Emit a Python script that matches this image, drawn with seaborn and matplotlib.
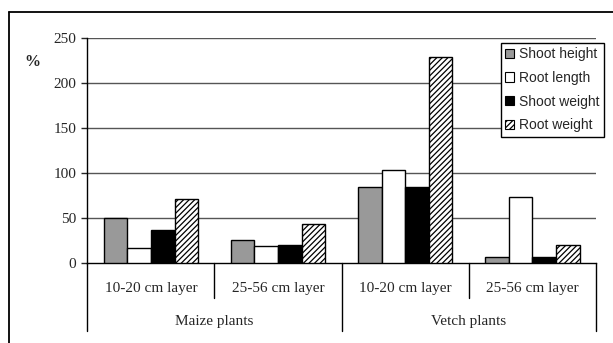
import matplotlib
matplotlib.use("Agg")
import matplotlib.pyplot as plt
import seaborn as sns
import pandas as pd
from matplotlib.lines import Line2D
from matplotlib.patches import Patch

# ---- data ----
layers = ["10-20 cm layer", "25-56 cm layer", "10-20 cm layer", "25-56 cm layer"]
plants = ["Maize plants", "Vetch plants"]
series = ["Shoot height", "Root length", "Shoot weight", "Root weight"]
shoot_height = [50, 26, 85, 7]
root_length = [17, 19, 103, 74]
shoot_weight = [37, 20, 85, 7]
root_weight = [71, 43, 229, 20]
yticks = [0, 50, 100, 150, 200, 250]

colors = ["#999999", "#ffffff", "#000000", "#ffffff"]
hatches = ["", "", "", "//////"]

cat_ids = ["M1", "M2", "V1", "V2"]
rows = []
for name, vals in zip(series, [shoot_height, root_length, shoot_weight, root_weight]):
    for c, v in zip(cat_ids, vals):
        rows.append({"cat": c, "series": name, "value": v})
df = pd.DataFrame(rows)

sns.set_style("white")
plt.rcParams["hatch.linewidth"] = 0.9
plt.rcParams["font.family"] = ["Liberation Serif", "DejaVu Serif"]

W, H = 613, 343
fig = plt.figure(figsize=(W / 100, H / 100), dpi=100)
ax_l, ax_r, ax_t, ax_b = 87.3, 596.0, 37.7, 263.3
ax = fig.add_axes([ax_l / W, 1 - ax_b / H, (ax_r - ax_l) / W, (ax_b - ax_t) / H])

sns.barplot(data=df, x="cat", y="value", hue="series", order=cat_ids,
            hue_order=series, palette=colors, width=0.743, gap=0,
            edgecolor="black", linewidth=1.0, saturation=1, legend=False, ax=ax,
            zorder=3)

for i, cont in enumerate(ax.containers):
    for p in cont.patches:
        p.set_hatch(hatches[i])
        p.set_edgecolor("black")
        p.set_zorder(3)

ax.set_ylim(0, 250)
ax.set_xlim(-0.5, 3.5)
ax.set_yticks(yticks)
ax.set_yticklabels([str(t) for t in yticks], fontsize=11)
ax.tick_params(axis="y", direction="out", length=4, width=1, pad=4, left=True)
ax.tick_params(axis="x", bottom=False, labelbottom=False)
ax.set_xlabel("")
ax.set_ylabel("")
for t in yticks[1:]:
    ax.axhline(t, color="#555555", lw=1.0, zorder=1)
for s in ["top", "right"]:
    ax.spines[s].set_visible(False)
ax.spines["left"].set_color("black")
ax.spines["bottom"].set_color("black")
ax.spines["left"].set_linewidth(1.0)
ax.spines["bottom"].set_linewidth(1.0)

# hierarchical category axis
def fy(px):
    return 1 - px / H

def fx(data_x):
    return (ax_l + (data_x + 0.5) / 4 * (ax_r - ax_l)) / W

for x in [-0.5, 1.5, 3.5]:
    fig.add_artist(Line2D([fx(x), fx(x)], [fy(ax_b), fy(330.7)], color="black", lw=1.0))
for x in [0.5, 2.5]:
    fig.add_artist(Line2D([fx(x), fx(x)], [fy(ax_b), fy(297.7)], color="black", lw=1.0))
for i, lab in enumerate(layers):
    fig.text(fx(i), fy(288.3), lab, ha="center", va="center", fontsize=11)
for j, lab in enumerate(plants):
    fig.text(fx(2 * j + 0.5), fy(321), lab, ha="center", va="center", fontsize=11)

fig.text(32 / W, fy(62), "%", ha="center", va="center", fontsize=11.5, fontweight="bold")

# legend
handles = [Patch(facecolor=colors[i], edgecolor="black", hatch=hatches[i] if hatches[i] else None,
                 label=series[i], linewidth=0.8) for i in range(4)]
leg = fig.legend(handles=handles, loc="upper left",
                 bbox_to_anchor=(500.7 / W, fy(42.7)),
                 prop={"family": ["Liberation Sans", "DejaVu Sans"], "size": 10},
                 frameon=True, fancybox=False, edgecolor="black", framealpha=1,
                 handlelength=0.65, handleheight=0.65, handletextpad=0.34,
                 labelspacing=0.7, borderpad=0.32, borderaxespad=0)
leg.get_frame().set_linewidth(1.0)

# outer frame (top and left only visible)
fig.add_artist(Line2D([9 / W, 1.0], [fy(12), fy(12)], color="black", lw=1.3))
fig.add_artist(Line2D([9 / W, 9 / W], [fy(12), 0], color="black", lw=1.3))

fig.savefig("out.png", dpi=100)
